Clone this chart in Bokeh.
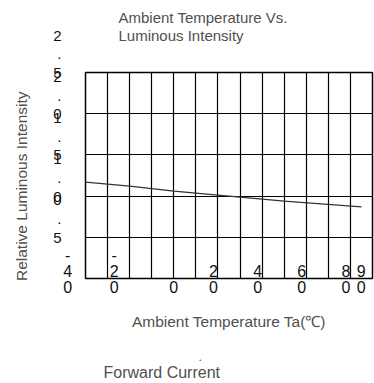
from bokeh.plotting import figure
from bokeh.models import FixedTicker, Title, Range1d
from bokeh.embed import file_html
from bokeh.resources import INLINE

# data
temp_c = [-40, -20, 0, 25, 50, 85]
rel_intensity = [1.17, 1.12, 1.06, 1.0, 0.94, 0.87]

NB = "\u00a0"
x_ticks = [-40, -20, 0, 20, 40, 60, 80, 90]
x_tick_labels = [
    "-" + NB * 8 + "\n4" + NB * 8 + "\n0" + NB * 8,
    "-" + NB * 7 + "\n2" + NB * 7 + "\n0" + NB * 7,
    NB + "\n" + NB + "\n0",
    NB + "\n2" + NB * 2 + "\n0" + NB * 2,
    NB + "\n4" + NB * 2 + "\n0" + NB * 2,
    NB + "\n6" + NB * 2 + "\n0" + NB * 2,
    NB + "\n8" + NB * 2 + "\n0" + NB * 2,
    NB + "\n9" + NB * 2 + "\n0" + NB * 2,
]
y_ticks = [0.5, 1.0, 1.5, 2.0, 2.5]
y_tick_labels = ["0\n.\n5\n" + NB + "\n" + NB, "1\n.\n0\n" + NB + "\n" + NB,
                 "1\n.\n5\n" + NB + "\n" + NB, "2\n.\n0\n" + NB + "\n" + NB,
                 "2\n.\n5\n" + NB + "\n" + NB]
grid_x = list(range(-40, 91, 10))
grid_y = [0, 0.5, 1.0, 1.5, 2.0, 2.5]

title_text = "Ambient Temperature Vs.\nLuminous Intensity"
x_title = "Ambient Temperature Ta(\u2103)"
y_title = "Relative Luminous Intensity"
caption_dot = "."
caption_text = "Forward Current"

FONT = "Liberation Sans"
TXT = "#505050"

p = figure(width=374, height=383, x_range=Range1d(-40, 90), y_range=Range1d(0, 2.5),
           output_backend="svg", toolbar_location=None,
           min_border_left=85, min_border_right=2, min_border_top=72, min_border_bottom=105)

p.background_fill_color = "white"
p.border_fill_color = "white"
p.outline_line_color = "black"
p.outline_line_width = 1.5

p.xgrid.ticker = FixedTicker(ticks=grid_x)
p.ygrid.ticker = FixedTicker(ticks=grid_y)
for g in (p.xgrid, p.ygrid):
    g.grid_line_color = "black"
    g.grid_line_alpha = 1.0
    g.grid_line_width = 1.2

p.line(temp_c, rel_intensity, line_color="#333333", line_width=1.2)

xa = p.xaxis[0]
xa.ticker = FixedTicker(ticks=x_ticks)
xa.major_label_overrides = {t: l for t, l in zip(x_ticks, x_tick_labels)}
xa.axis_line_color = None
xa.major_tick_line_color = None
xa.minor_tick_line_color = None
xa.major_tick_out = 0
xa.major_tick_in = 0
xa.major_label_standoff = -32
xa.major_label_text_font = FONT
xa.major_label_text_font_size = "16px"
xa.major_label_text_line_height = 0.97
xa.major_label_text_color = "#111111"
xa.axis_label = x_title
xa.axis_label_text_font = FONT
xa.axis_label_text_font_size = "15.5px"
xa.axis_label_text_font_style = "normal"
xa.axis_label_text_color = TXT
xa.axis_label_standoff = 14

ya = p.yaxis[0]
ya.ticker = FixedTicker(ticks=y_ticks)
ya.major_label_overrides = {t: l for t, l in zip(y_ticks, y_tick_labels)}
ya.axis_line_color = None
ya.major_tick_line_color = None
ya.minor_tick_line_color = None
ya.major_tick_out = 0
ya.major_tick_in = 0
ya.major_label_standoff = 24
ya.major_label_orientation = "horizontal"
ya.major_label_text_font = FONT
ya.major_label_text_font_size = "15px"
ya.major_label_text_line_height = 1.1
ya.major_label_text_align = "center"
ya.major_label_text_color = "#111111"
ya.axis_label = y_title + NB * 5
ya.axis_label_text_font = FONT
ya.axis_label_text_font_size = "15.5px"
ya.axis_label_text_font_style = "normal"
ya.axis_label_text_color = TXT
ya.axis_label_standoff = 20

# title: a thin spacer next to the frame, then the two-line title
p.add_layout(Title(text=NB, standoff=25, text_font_size="1px"), "above")
p.add_layout(Title(text=title_text, align="left", offset=33, standoff=0,
                   text_font=FONT, text_font_size="15px", text_font_style="normal",
                   text_color=TXT, text_line_height=1.11), "above")

# captions under the axis title
p.add_layout(Title(text=NB, standoff=12, text_font_size="1px"), "below")
p.add_layout(Title(text=caption_dot, align="left", offset=113, standoff=2,
                   text_font=FONT, text_font_size="12px", text_font_style="normal",
                   text_color=TXT), "below")
p.add_layout(Title(text=caption_text, align="left", offset=18, standoff=0,
                   text_font=FONT, text_font_size="16px", text_font_style="normal",
                   text_color=TXT), "below")

open("out.html", "w").write(file_html(p, INLINE))
